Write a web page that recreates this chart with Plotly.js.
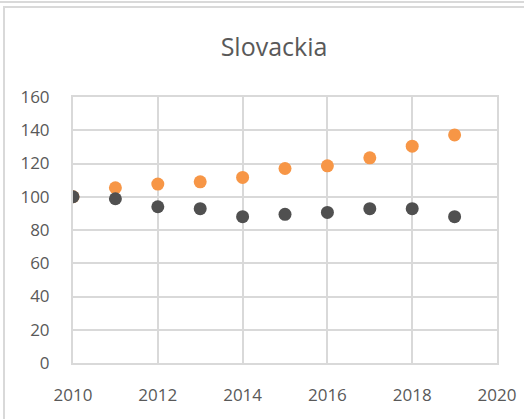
<!DOCTYPE html>
<html>
<head>
<meta charset="utf-8">
<script src="https://cdn.plot.ly/plotly-3.0.1.min.js"></script>
<style>
html,body{margin:0;padding:0;background:#fff;}
#wrap{position:relative;width:524px;height:419px;overflow:hidden;}
#topline{position:absolute;left:0;top:1px;width:524px;height:0;border-top:2px solid #d9d9d9;}
#frame{position:absolute;left:3px;top:6px;width:600px;height:500px;border:2px solid #d9d9d9;}
#chart{position:absolute;left:0;top:0;width:524px;height:419px;}
</style>
</head>
<body>
<div id="wrap">
<div id="topline"></div>
<div id="frame"></div>
<div id="chart"></div>
</div>
<script>
const years = [2010, 2011, 2012, 2013, 2014, 2015, 2016, 2017, 2018, 2019];
const orangeSeries = [100, 105.4, 107.6, 109, 111.6, 117, 118.6, 123.4, 130.4, 137.2];
const graySeries = [100, 98.8, 94, 92.8, 88, 89.4, 90.6, 92.8, 92.8, 88];
const titleText = "Slovackia";

const traces = [
  {x: years, y: orangeSeries, type: 'scatter', mode: 'markers',
   marker: {color: '#F79646', size: 13}, showlegend: false, hoverinfo: 'skip'},
  {x: years, y: graySeries, type: 'scatter', mode: 'markers',
   marker: {color: '#505050', size: 13}, showlegend: false, hoverinfo: 'skip'}
];

const layout = {
  width: 524, height: 419,
  margin: {l: 73, r: 27, t: 97, b: 56},
  paper_bgcolor: 'rgba(0,0,0,0)', plot_bgcolor: 'rgba(0,0,0,0)',
  font: {family: '"Open Sans", sans-serif', color: '#595959', size: 17},
  title: {text: titleText, font: {size: 25, color: '#595959'},
          xref: 'container', x: 0.523, xanchor: 'center',
          yref: 'container', y: 1 - 47/419, yanchor: 'middle'},
  xaxis: {range: [2010, 2020], tickvals: [2010, 2012, 2014, 2016, 2018, 2020],
          ticktext: ['2010','2012','2014','2016','2018','2020'],
          showgrid: true, gridcolor: '#d9d9d9', gridwidth: 2,
          zeroline: false, showline: true, linecolor: '#d9d9d9', linewidth: 2, mirror: true,
          ticks: '', ticklabelstandoff: 16, fixedrange: true},
  yaxis: {range: [0, 160], tickvals: [0,20,40,60,80,100,120,140,160],
          showgrid: true, gridcolor: '#d9d9d9', gridwidth: 2,
          zeroline: false, showline: true, linecolor: '#d9d9d9', linewidth: 2, mirror: true,
          ticks: '', ticklabelstandoff: 18, fixedrange: true}
};

Plotly.newPlot('chart', traces, layout, {staticPlot: true, displayModeBar: false});
</script>
</body>
</html>
